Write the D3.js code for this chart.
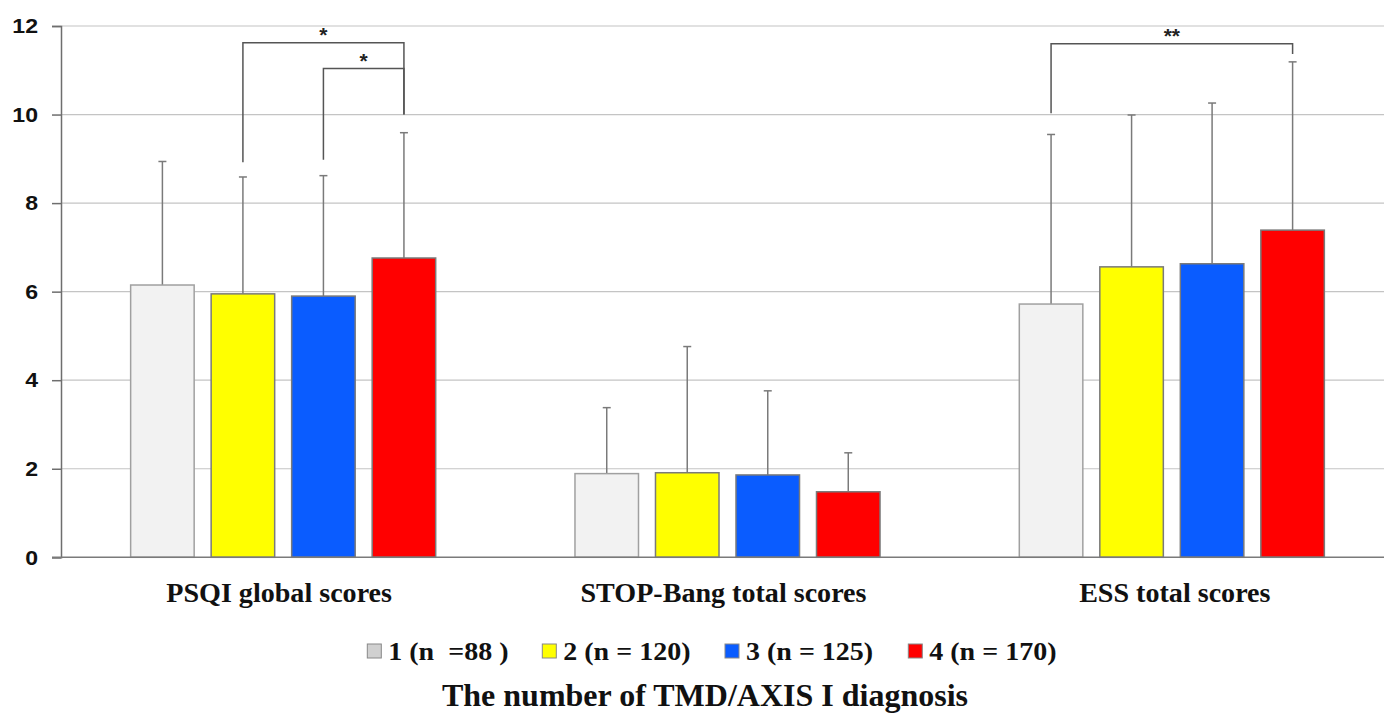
<!DOCTYPE html>
<html>
<head>
<meta charset="utf-8">
<script src="https://cdn.jsdelivr.net/npm/d3@7"></script>
<style>
  html, body { margin: 0; padding: 0; background: #fff; }
  svg { display: block; }
</style>
</head>
<body>
<svg id="chart" width="1384" height="714"></svg>
<script>
// ---- data ----
const categories = ["PSQI global scores", "STOP-Bang total scores", "ESS total scores"];
const seriesNames = ["1 (n  =88 )", "2 (n = 120)", "3 (n = 125)", "4 (n = 170)"];
const seriesColors = ["#f2f2f2", "#ffff00", "#0a5cff", "#ff0000"];
const legendSwatchColors = ["#d0d0d0", "#ffff00", "#0a5cff", "#ff0000"];
const meansS1 = [6.15, 1.89, 5.72];
const meansS2 = [5.95, 1.91, 6.56];
const meansS3 = [5.90, 1.86, 6.63];
const meansS4 = [6.76, 1.48, 7.39];
const upperS1 = [8.94, 3.38, 9.55];
const upperS2 = [8.59, 4.76, 9.99];
const upperS3 = [8.62, 3.76, 10.26];
const upperS4 = [9.59, 2.36, 11.19];
const yTicks = [0, 2, 4, 6, 8, 10, 12];
const xTitle = "The number of TMD/AXIS I diagnosis";
// significance brackets: category, from series, to series, bar height, left leg end, right leg end, label
const brackets = [
  { cat: 0, from: 1, to: 3, top: 11.62, leftEnd: 8.92, rightEnd: 10.0, label: "*" },
  { cat: 0, from: 2, to: 3, top: 11.04, leftEnd: 8.98, rightEnd: 10.0, label: "*" },
  { cat: 2, from: 0, to: 3, top: 11.60, leftEnd: 10.03, rightEnd: 11.37, label: "**" }
];

(function () {
const means = [meansS1, meansS2, meansS3, meansS4];
const uppers = [upperS1, upperS2, upperS3, upperS4];

const svg = d3.select("#chart");
const mLeft = 61, mRight = 1394, mTop = 26, mBottom = 557.3;

const y = d3.scaleLinear().domain([0, 12]).range([mBottom, mTop]);
const x0 = d3.scaleBand().domain(categories).range([mLeft, mRight]).padding(0);
const x1 = d3.scaleBand().domain(d3.range(seriesNames.length))
  .range([0, x0.bandwidth()]).paddingInner(0.211).paddingOuter(0.865);

function stretch(sel, k) {
  sel.each(function () {
    const w = this.getComputedTextLength();
    d3.select(this).attr("textLength", w * k).attr("lengthAdjust", "spacingAndGlyphs");
  });
}

// gridlines
svg.append("g").selectAll("line").data(yTicks.filter(d => d > 0)).join("line")
  .attr("x1", mLeft).attr("x2", 1384)
  .attr("y1", d => y(d)).attr("y2", d => y(d))
  .attr("stroke", "#c4c4c4").attr("stroke-width", 1.2);

// y axis
const yAxis = d3.axisLeft(y).tickValues(yTicks).tickSize(9).tickPadding(14);
const gy = svg.append("g").attr("transform", `translate(${mLeft},0)`).call(yAxis);
gy.select(".domain").attr("stroke", "#6e6e6e").attr("stroke-width", 1.5);
gy.selectAll(".tick line").attr("stroke", "#6e6e6e").attr("stroke-width", 1.5);
gy.selectAll(".tick text")
  .attr("font-family", "Liberation Sans, Arial, sans-serif")
  .attr("font-weight", "bold").attr("font-size", 21).attr("fill", "#111")
  .call(stretch, 1.1);

// bars
const bars = [];
categories.forEach((c, ci) => {
  seriesNames.forEach((s, si) => {
    bars.push({ c, ci, si, v: means[si][ci], u: uppers[si][ci] });
  });
});
const g = svg.append("g");
g.selectAll("line.err").data(bars).join("line").attr("class", "err")
  .attr("x1", d => x0(d.c) + x1(d.si) + x1.bandwidth() / 2)
  .attr("x2", d => x0(d.c) + x1(d.si) + x1.bandwidth() / 2)
  .attr("y1", d => y(d.v)).attr("y2", d => y(d.u))
  .attr("stroke", "#7a7a7a").attr("stroke-width", 1.5);
g.selectAll("line.cap").data(bars).join("line").attr("class", "cap")
  .attr("x1", d => x0(d.c) + x1(d.si) + x1.bandwidth() / 2 - 4)
  .attr("x2", d => x0(d.c) + x1(d.si) + x1.bandwidth() / 2 + 4)
  .attr("y1", d => y(d.u)).attr("y2", d => y(d.u))
  .attr("stroke", "#7a7a7a").attr("stroke-width", 1.5);
g.selectAll("rect").data(bars).join("rect")
  .attr("x", d => x0(d.c) + x1(d.si))
  .attr("width", x1.bandwidth())
  .attr("y", d => y(d.v))
  .attr("height", d => y(0) - y(d.v))
  .attr("fill", d => seriesColors[d.si])
  .attr("stroke", d => d.si === 0 ? "#a0a0a0" : "#7a7a7a")
  .attr("stroke-width", 1.5);

// x axis line
svg.append("line").attr("x1", 52).attr("x2", 1384)
  .attr("y1", y(0)).attr("y2", y(0))
  .attr("stroke", "#7a7a7a").attr("stroke-width", 1.5);

// category labels
svg.append("g").selectAll("text").data(categories).join("text")
  .attr("x", (d, i) => x0(d) + x0.bandwidth() / 2 + (i === 2 ? 3 : -4))
  .attr("y", 601.5)
  .attr("text-anchor", "middle")
  .attr("font-family", "Liberation Serif, Times New Roman, serif")
  .attr("font-weight", "bold").attr("font-size", 27).attr("fill", "#111")
  .text(d => d)
  .call(stretch, 1.04);

// significance brackets
const bg = svg.append("g");
brackets.forEach(b => {
  const cx = s => x0(categories[b.cat]) + x1(s) + x1.bandwidth() / 2;
  const xa = cx(b.from), xb = cx(b.to);
  bg.append("path")
    .attr("d", `M${xa},${y(b.leftEnd)}V${y(b.top)}H${xb}V${y(b.rightEnd)}`)
    .attr("fill", "none").attr("stroke", "#555").attr("stroke-width", 1.5);
  bg.append("text")
    .attr("x", (xa + xb) / 2).attr("y", y(b.top) - 1)
    .attr("text-anchor", "middle")
    .attr("font-family", "Liberation Sans, Arial, sans-serif")
    .attr("font-weight", "bold").attr("font-size", 21).attr("fill", "#222")
    .text(b.label);
});

// legend
const legendX = [367.3, 542.3, 725, 908.3];
const lg = svg.append("g");
seriesNames.forEach((s, i) => {
  lg.append("rect").attr("x", legendX[i]).attr("y", 644).attr("width", 14).attr("height", 14)
    .attr("fill", legendSwatchColors[i]).attr("stroke", "#888").attr("stroke-width", 1);
  lg.append("text").attr("x", legendX[i] + 21).attr("y", 659.5)
    .attr("font-family", "Liberation Serif, Times New Roman, serif")
    .attr("font-weight", "bold").attr("font-size", 25).attr("fill", "#111")
    .style("white-space", "pre")
    .text(s)
    .call(stretch, 1.12);
});

// x title
svg.append("text").attr("x", 705).attr("y", 706).attr("text-anchor", "middle")
  .attr("font-family", "Liberation Serif, Times New Roman, serif")
  .attr("font-weight", "bold").attr("font-size", 32).attr("fill", "#111")
  .text(xTitle);
})();
</script>
</body>
</html>
